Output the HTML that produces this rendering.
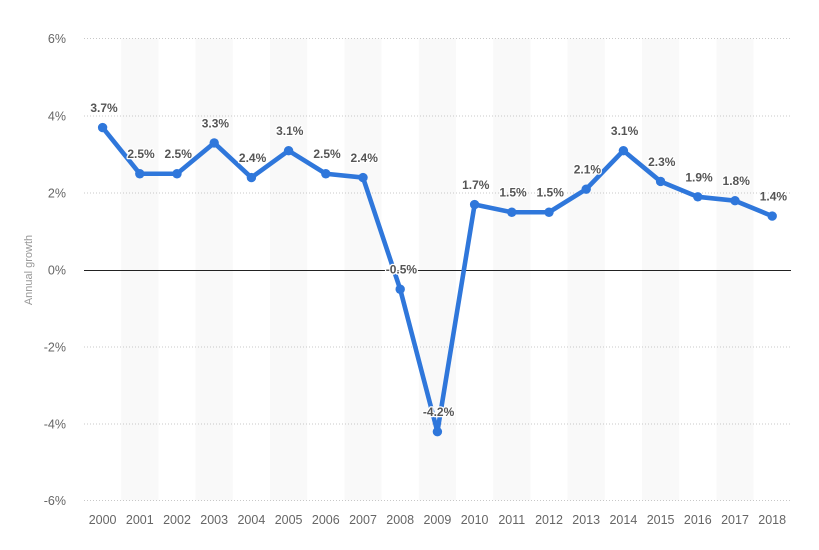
<!DOCTYPE html>
<html>
<head>
<meta charset="utf-8">
<style>
  html,body{margin:0;padding:0;background:#fff;}
  svg{display:block;}
  text{font-family:"Liberation Sans",Arial,sans-serif;}
  .tick{font-size:12.5px;fill:#666;}
  .yr{font-size:12.5px;fill:#666;}
  .lab{font-size:12px;font-weight:bold;fill:#555;stroke:#fff;stroke-width:2.5px;paint-order:stroke;stroke-linejoin:round;}
</style>
</head>
<body>
<svg width="819" height="550" viewBox="0 0 819 550" xmlns="http://www.w3.org/2000/svg">
  <rect x="0" y="0" width="819" height="550" fill="#fff"/>
  <!-- bands -->
  <g fill="#f9f9f9">
    <rect x="121.2" y="38.5" width="37.2" height="462"/>
    <rect x="195.6" y="38.5" width="37.2" height="462"/>
    <rect x="270" y="38.5" width="37.2" height="462"/>
    <rect x="344.4" y="38.5" width="37.2" height="462"/>
    <rect x="418.8" y="38.5" width="37.2" height="462"/>
    <rect x="493.2" y="38.5" width="37.2" height="462"/>
    <rect x="567.6" y="38.5" width="37.2" height="462"/>
    <rect x="642" y="38.5" width="37.2" height="462"/>
    <rect x="716.4" y="38.5" width="37.2" height="462"/>
  </g>
  <!-- gridlines -->
  <g stroke="#c8c8c8" stroke-width="1" stroke-dasharray="1,2">
    <line x1="84" y1="38.5" x2="791" y2="38.5"/>
    <line x1="84" y1="116" x2="791" y2="116"/>
    <line x1="84" y1="193" x2="791" y2="193"/>
    <line x1="84" y1="347" x2="791" y2="347"/>
    <line x1="84" y1="424" x2="791" y2="424"/>
    <line x1="84" y1="500.5" x2="791" y2="500.5"/>
  </g>
  <line x1="84" y1="270.5" x2="791" y2="270.5" stroke="#222" stroke-width="1"/>
  <!-- y tick labels -->
  <g class="tick" text-anchor="end">
    <text x="66" y="43">6%</text>
    <text x="66" y="120.5">4%</text>
    <text x="66" y="197.5">2%</text>
    <text x="66" y="274.5">0%</text>
    <text x="66" y="351.5">-2%</text>
    <text x="66" y="428.5">-4%</text>
    <text x="66" y="505">-6%</text>
  </g>
  <text transform="translate(32,270) rotate(-90)" text-anchor="middle" font-size="11" fill="#999">Annual growth</text>
  <!-- x labels -->
  <g class="yr" text-anchor="middle">
    <text x="102.6" y="524">2000</text>
    <text x="139.8" y="524">2001</text>
    <text x="177" y="524">2002</text>
    <text x="214.2" y="524">2003</text>
    <text x="251.4" y="524">2004</text>
    <text x="288.6" y="524">2005</text>
    <text x="325.8" y="524">2006</text>
    <text x="363" y="524">2007</text>
    <text x="400.2" y="524">2008</text>
    <text x="437.4" y="524">2009</text>
    <text x="474.6" y="524">2010</text>
    <text x="511.8" y="524">2011</text>
    <text x="549" y="524">2012</text>
    <text x="586.2" y="524">2013</text>
    <text x="623.4" y="524">2014</text>
    <text x="660.6" y="524">2015</text>
    <text x="697.8" y="524">2016</text>
    <text x="735" y="524">2017</text>
    <text x="772.2" y="524">2018</text>
  </g>
  <!-- series -->
  <polyline fill="none" stroke="#2f77db" stroke-width="4.6" stroke-linejoin="round" stroke-linecap="round"
    points="102.6,127.55 139.8,173.75 177,173.75 214.2,142.95 251.4,177.6 288.6,150.65 325.8,173.75 363,177.6 400.2,289.25 437.4,431.7 474.6,204.55 511.8,212.25 549,212.25 586.2,189.15 623.4,150.65 660.6,181.45 697.8,196.85 735,200.7 772.2,216.1"/>
  <g fill="#2f77db">
    <circle cx="102.6" cy="127.55" r="4.7"/>
    <circle cx="139.8" cy="173.75" r="4.7"/>
    <circle cx="177" cy="173.75" r="4.7"/>
    <circle cx="214.2" cy="142.95" r="4.7"/>
    <circle cx="251.4" cy="177.6" r="4.7"/>
    <circle cx="288.6" cy="150.65" r="4.7"/>
    <circle cx="325.8" cy="173.75" r="4.7"/>
    <circle cx="363" cy="177.6" r="4.7"/>
    <circle cx="400.2" cy="289.25" r="4.7"/>
    <circle cx="437.4" cy="431.7" r="4.7"/>
    <circle cx="474.6" cy="204.55" r="4.7"/>
    <circle cx="511.8" cy="212.25" r="4.7"/>
    <circle cx="549" cy="212.25" r="4.7"/>
    <circle cx="586.2" cy="189.15" r="4.7"/>
    <circle cx="623.4" cy="150.65" r="4.7"/>
    <circle cx="660.6" cy="181.45" r="4.7"/>
    <circle cx="697.8" cy="196.85" r="4.7"/>
    <circle cx="735" cy="200.7" r="4.7"/>
    <circle cx="772.2" cy="216.1" r="4.7"/>
  </g>
  <!-- data labels -->
  <g class="lab" text-anchor="middle">
    <text x="104" y="112">3.7%</text>
    <text x="141" y="158.2">2.5%</text>
    <text x="178.2" y="158.2">2.5%</text>
    <text x="215.4" y="127.4">3.3%</text>
    <text x="252.6" y="162">2.4%</text>
    <text x="289.8" y="135.1">3.1%</text>
    <text x="327" y="158.2">2.5%</text>
    <text x="364.2" y="162">2.4%</text>
    <text x="401.4" y="273.7">-0.5%</text>
    <text x="438.6" y="416.1">-4.2%</text>
    <text x="475.8" y="189">1.7%</text>
    <text x="513" y="196.7">1.5%</text>
    <text x="550.2" y="196.7">1.5%</text>
    <text x="587.4" y="173.6">2.1%</text>
    <text x="624.6" y="135.1">3.1%</text>
    <text x="661.8" y="165.9">2.3%</text>
    <text x="699" y="181.3">1.9%</text>
    <text x="736.2" y="185.1">1.8%</text>
    <text x="773.4" y="200.5">1.4%</text>
  </g>
</svg>
</body>
</html>
